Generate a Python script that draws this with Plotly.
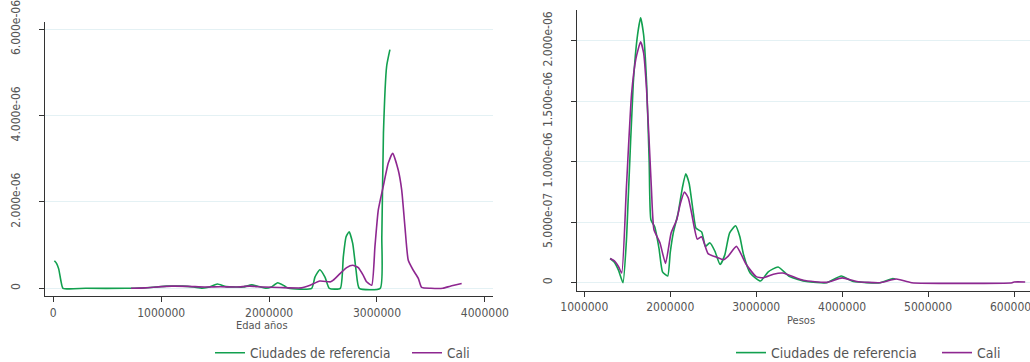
import plotly.graph_objects as go

W, H = 1030, 362

# ---------------- data (x in millions of pesos, y density in 1e-6) ----------------
left_ref_x = [0.01, 0.03, 0.05, 0.07, 0.09, 0.3, 0.68, 0.8, 0.95, 1.05, 1.2, 1.3, 1.38, 1.45, 1.52, 1.6,
              1.7, 1.76, 1.84, 1.92, 1.97, 2.02, 2.08, 2.14, 2.18, 2.395, 2.425, 2.47, 2.518, 2.558,
              2.66, 2.688, 2.713, 2.742, 2.775, 2.806, 2.836, 3.03, 3.045, 3.06, 3.09, 3.12]
left_ref_y = [0.64, 0.58, 0.45, 0.18, 0.0, 0.0, 0.0, 0.005, 0.03, 0.05, 0.05, 0.03, 0.005, 0.03, 0.10, 0.04,
              0.03, 0.03, 0.08, 0.03, 0.0, 0.03, 0.13, 0.06, 0.0, 0.0, 0.26, 0.43, 0.26, 0.0,
              0.0, 0.73, 1.19, 1.31, 1.04, 0.42, 0.0, 0.0, 1.2, 3.6, 5.15, 5.53]

left_cali_x = [0.72, 0.85, 1.0, 1.1, 1.25, 1.4, 1.55, 1.7, 1.82, 1.95, 2.1, 2.3, 2.38, 2.47, 2.57, 2.595,
               2.657, 2.719, 2.775, 2.827, 2.873, 2.904, 2.951, 2.981, 3.012, 3.058, 3.105, 3.145,
               3.197, 3.229, 3.259, 3.29, 3.336, 3.383, 3.414, 3.5, 3.61, 3.68, 3.785]
left_cali_y = [0.0, 0.01, 0.04, 0.05, 0.045, 0.03, 0.035, 0.03, 0.05, 0.03, 0.02, 0.01, 0.07, 0.17, 0.15, 0.19,
               0.34, 0.48, 0.535, 0.48, 0.30, 0.15, 0.07, 0.96, 1.81, 2.36, 2.9, 3.13,
               2.74, 2.28, 1.43, 0.65, 0.42, 0.23, 0.02, 0.0, 0.0, 0.05, 0.11]

right_ref_x = [1.3, 1.35, 1.4, 1.45, 1.49, 1.51, 1.57, 1.62, 1.655, 1.69, 1.725, 1.755, 1.775, 1.82, 1.87,
               1.91, 1.97, 2.0, 2.035, 2.09, 2.14, 2.18, 2.22, 2.27, 2.3, 2.365, 2.41, 2.46, 2.52, 2.58,
               2.635, 2.69, 2.76, 2.81, 2.85, 2.93, 3.05, 3.14, 3.255, 3.39, 3.585, 3.82, 3.99, 4.13,
               4.44, 4.59, 4.62]
right_ref_y = [0.20, 0.17, 0.10, 0.0, 0.35, 0.68, 1.65, 2.05, 2.19, 2.05, 1.65, 1.0, 0.52, 0.46, 0.28,
               0.09, 0.055, 0.25, 0.41, 0.57, 0.78, 0.90, 0.82, 0.57, 0.45, 0.42, 0.30, 0.33, 0.26, 0.15,
               0.23, 0.41, 0.47, 0.38, 0.24, 0.08, 0.014, 0.09, 0.13, 0.05, 0.01, 0.0, 0.055, 0.01,
               0.0, 0.035, 0.03]

right_cali_x = [1.3, 1.35, 1.4, 1.435, 1.49, 1.55, 1.6, 1.655, 1.69, 1.725, 1.78, 1.81, 1.88, 1.945, 2.01,
                2.075, 2.12, 2.165, 2.21, 2.25, 2.315, 2.365, 2.44, 2.54, 2.62, 2.675, 2.77, 2.885, 3.0,
                3.08, 3.2, 3.31, 3.545, 3.82, 4.0, 4.17, 4.44, 4.63, 4.81, 5.98, 6.0, 6.13]
right_cali_y = [0.20, 0.18, 0.13, 0.08, 0.79, 1.56, 1.85, 1.99, 1.90, 1.59, 0.79, 0.44, 0.33, 0.16, 0.41,
                0.52, 0.66, 0.75, 0.70, 0.57, 0.36, 0.38, 0.24, 0.21, 0.19, 0.22, 0.30, 0.15, 0.05,
                0.04, 0.07, 0.08, 0.02, 0.003, 0.04, 0.01, 0.0, 0.03, 0.0, 0.0, 0.006, 0.006]

left_xticks = [0, 1000000, 2000000, 3000000, 4000000]
left_xlabels = ["0", "1000000", "2000000", "3000000", "4000000"]
left_yticks = [0, 2e-6, 4e-6, 6e-6]
left_ylabels = ["0", "2.000e-06", "4.000e-06", "6.000e-06"]
right_xticks = [1000000, 2000000, 3000000, 4000000, 5000000, 6000000]
right_xlabels = ["1000000", "2000000", "3000000", "4000000", "5000000", "6000000"]
right_yticks = [0, 5e-7, 1e-6, 1.5e-6, 2e-6]
right_ylabels = ["0", "5.000e-07", "1.000e-06", "1.500e-06", "2.000e-06"]

series_names = ["Ciudades de referencia", "Cali"]
GREEN = "#12a04f"
PURPLE = "#8e2790"

FONT = "DejaVu Sans Condensed, Liberation Sans Narrow, sans-serif"
TXT = "#555555"
AX = "#333333"
GRID = "#e4f1f4"

M = 1e6
U = 1e-6

fig = go.Figure()

def add(xs, ys, name, color, xa, ya, legend):
    fig.add_trace(go.Scatter(
        x=[v * M for v in xs], y=[v * U for v in ys], mode="lines", name=name,
        line=dict(color=color, width=1.6, shape="spline", smoothing=0.5),
        xaxis=xa, yaxis=ya, legend=legend, hoverinfo="skip"))

add(left_ref_x, left_ref_y, series_names[0], GREEN, "x", "y", "legend")
add(left_cali_x, left_cali_y, series_names[1], PURPLE, "x", "y", "legend")
add(right_ref_x, right_ref_y, series_names[0], GREEN, "x2", "y2", "legend2")
add(right_cali_x, right_cali_y, series_names[1], PURPLE, "x2", "y2", "legend2")

def px(x):
    return x / W

def py(y):
    return 1 - y / H

common_x = dict(showline=True, linecolor=AX, linewidth=1.3, ticks="outside", ticklen=5, tickcolor=AX,
                tickwidth=1, showgrid=False, zeroline=False, tickfont=dict(family=FONT, size=12, color=TXT),
                ticklabelstandoff=0, ticklabeloverflow="allow")
common_y = dict(showline=True, linecolor=AX, linewidth=1.3, ticks="outside", ticklen=5, tickcolor=AX,
                tickwidth=1, showgrid=True, gridcolor=GRID, gridwidth=1, zeroline=False, tickangle=-90,
                tickfont=dict(family=FONT, size=12, color=TXT), ticklabelstandoff=14,
                ticklabeloverflow="allow")

fig.update_layout(
    width=W, height=H, margin=dict(l=0, r=0, t=0, b=0, autoexpand=False),
    paper_bgcolor="white", plot_bgcolor="white",
    font=dict(family=FONT, color=TXT),
    xaxis=dict(domain=[px(45), px(493)], range=[-0.0769 * M, 4.0754 * M], tickvals=left_xticks,
               ticktext=left_xlabels, anchor="y", **common_x),
    yaxis=dict(domain=[py(296), py(22)], range=[-0.178 * U, 6.169 * U], tickvals=left_yticks,
               ticktext=left_ylabels, anchor="x", **common_y),
    xaxis2=dict(domain=[px(577), 1], range=[0.915 * M, 6.186 * M], tickvals=right_xticks,
                ticktext=right_xlabels, anchor="y2", **common_x),
    yaxis2=dict(domain=[py(290.7), py(10)], range=[-0.0661 * U, 2.2537 * U], tickvals=right_yticks,
                ticktext=right_ylabels, anchor="x2", **common_y),
    legend=dict(orientation="h", x=px(210), y=py(353), xanchor="left", yanchor="middle",
                entrywidth=152, font=dict(family=FONT, size=13.5, color=TXT), bgcolor="rgba(0,0,0,0)"),
    legend2=dict(orientation="h", x=px(731), y=py(353), xanchor="left", yanchor="middle",
                 entrywidth=161, font=dict(family=FONT, size=14, color=TXT), bgcolor="rgba(0,0,0,0)"),
    showlegend=True,
    annotations=[
        dict(text="Edad años", x=px(262), y=py(325.5), xref="paper", yref="paper", showarrow=False,
             xanchor="center", yanchor="middle", font=dict(family=FONT, size=11, color=TXT)),
        dict(text="Pesos", x=px(800.7), y=py(320.5), xref="paper", yref="paper", showarrow=False,
             xanchor="center", yanchor="middle", font=dict(family=FONT, size=11, color=TXT)),
    ],
)

fig.write_html("out.html")
